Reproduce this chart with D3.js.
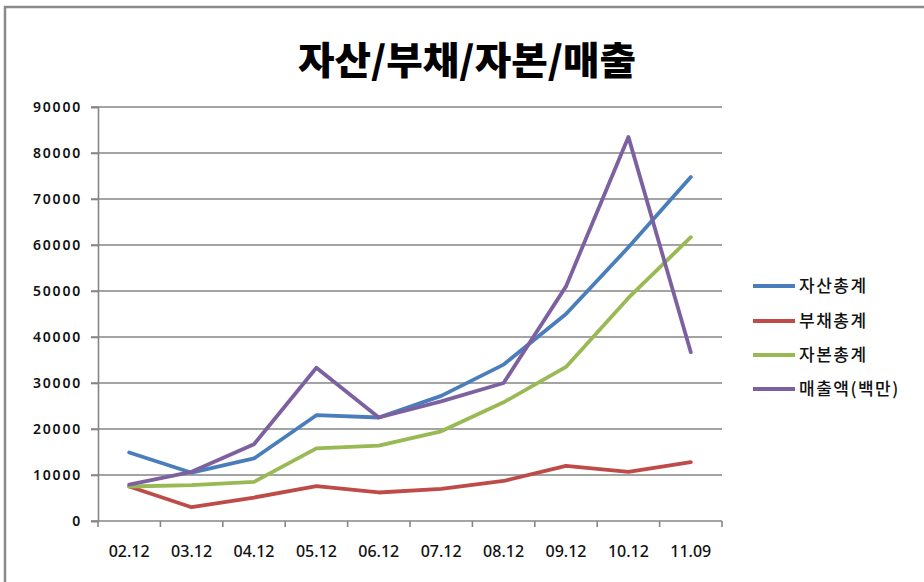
<!DOCTYPE html>
<html>
<head>
<meta charset="utf-8">
<script src="https://cdn.jsdelivr.net/npm/d3@7/dist/d3.min.js"></script>
<style>
  html, body { margin: 0; padding: 0; background: #fff; }
  svg { display: block; }
</style>
</head>
<body>
<svg id="chart" width="924" height="582"></svg>
<script>
// Category labels (year.month)
const categories = ["02.12", "03.12", "04.12", "05.12", "06.12", "07.12", "08.12", "09.12", "10.12", "11.09"];

// Series values (백만원)
const assets      = [14900, 10500, 13600, 23000, 22500, 27200, 34000, 45000, 59500, 74800];
const liabilities = [7500, 3000, 5100, 7600, 6200, 7000, 8700, 12000, 10700, 12800];
const equity      = [7500, 7800, 8500, 15800, 16400, 19500, 25800, 33500, 48500, 61700];
const sales       = [7900, 10700, 16700, 33300, 22500, 26000, 30000, 51000, 83500, 36700];

const seriesNames = ["자산총계", "부채총계", "자본총계", "매출액(백만)"];
const seriesColors = ["#4a7ebb", "#be4b48", "#98b954", "#7d60a0"];

const yTicks = [0, 10000, 20000, 30000, 40000, 50000, 60000, 70000, 80000, 90000];

const titleText = "자산/부채/자본/매출";

const series = [assets, liabilities, equity, sales].map((values, i) => ({
  name: seriesNames[i],
  color: seriesColors[i],
  values
}));

const svg = d3.select("#chart");
const plot = { left: 98, right: 722, top: 107, bottom: 521 };

svg.append("rect").attr("width", 924).attr("height", 582).attr("fill", "#fff");

// outer chart frame (top and left edges visible)
svg.append("path")
  .attr("d", "M5,582 L5,7 L924,7")
  .attr("fill", "none")
  .attr("stroke", "#8a8a8a")
  .attr("stroke-width", 2.5);

// title
svg.append("text")
  .attr("x", 467)
  .attr("y", 74)
  .attr("text-anchor", "middle")
  .attr("font-family", "'Noto Sans CJK KR', sans-serif")
  .attr("font-weight", 900)
  .attr("font-size", 38)
  .attr("textLength", 338)
  .attr("lengthAdjust", "spacingAndGlyphs")
  .attr("fill", "#000")
  .text(titleText);

const x = d3.scaleBand().domain(categories).range([plot.left, plot.right]);
const y = d3.scaleLinear().domain([0, 90000]).range([plot.bottom, plot.top]);

// horizontal gridlines with short outer ticks
svg.append("g")
  .selectAll("line")
  .data(yTicks.filter(d => d > 0))
  .join("line")
  .attr("x1", plot.left - 7)
  .attr("x2", plot.right)
  .attr("y1", d => y(d))
  .attr("y2", d => y(d))
  .attr("stroke", "#868686")
  .attr("stroke-width", 1.6);

// y axis
const yAxis = svg.append("g")
  .attr("transform", `translate(${plot.left},0)`)
  .call(d3.axisLeft(y).tickValues(yTicks).tickSize(7).tickPadding(9).tickFormat(d3.format("d")));
yAxis.select(".domain").attr("stroke", "#868686").attr("stroke-width", 1.6);
yAxis.selectAll(".tick line").attr("stroke", "#868686").attr("stroke-width", 1.6);
yAxis.selectAll(".tick text")
  .attr("font-family", "'Noto Sans', sans-serif")
  .attr("font-size", 14)
  .attr("font-weight", 600)
  .attr("letter-spacing", 1.8)
  .attr("fill", "#111");

// x axis: ticks at band boundaries
const xAxisG = svg.append("g").attr("transform", `translate(0,${plot.bottom})`);
xAxisG.append("line")
  .attr("x1", plot.left - 7).attr("x2", plot.right)
  .attr("stroke", "#868686").attr("stroke-width", 1.6);
xAxisG.selectAll(".bt")
  .data(categories.map(c => x(c)).concat([plot.right]))
  .join("line")
  .attr("class", "bt")
  .attr("x1", d => d).attr("x2", d => d)
  .attr("y1", 0).attr("y2", 6)
  .attr("stroke", "#868686").attr("stroke-width", 1.6);
xAxisG.selectAll(".xl")
  .data(categories)
  .join("text")
  .attr("class", "xl")
  .attr("x", d => x(d) + x.bandwidth() / 2)
  .attr("y", 36)
  .attr("text-anchor", "middle")
  .attr("font-family", "'Noto Sans', sans-serif")
  .attr("font-size", 16)
  .attr("font-weight", 500)
  .attr("fill", "#111")
  .text(d => d);

// series lines
const line = d3.line()
  .x((d, i) => x(categories[i]) + x.bandwidth() / 2)
  .y(d => y(d));

svg.append("g")
  .selectAll("path")
  .data(series)
  .join("path")
  .attr("d", d => line(d.values))
  .attr("fill", "none")
  .attr("stroke", d => d.color)
  .attr("stroke-width", 3.8)
  .attr("stroke-linejoin", "round")
  .attr("stroke-linecap", "round");

// legend
const legendRows = [286, 321, 355, 389];
const legend = svg.append("g")
  .selectAll("g")
  .data(series)
  .join("g")
  .attr("transform", (d, i) => `translate(753,${legendRows[i]})`);
legend.append("line")
  .attr("x1", 0).attr("x2", 42)
  .attr("stroke", d => d.color)
  .attr("stroke-width", 3.8);
legend.append("text")
  .attr("x", 46)
  .attr("y", 6)
  .attr("font-family", "'Noto Sans CJK KR', sans-serif")
  .attr("font-size", 17)
  .attr("font-weight", 500)
  .attr("letter-spacing", 1.5)
  .attr("fill", "#111")
  .text(d => d.name);
</script>
</body>
</html>
